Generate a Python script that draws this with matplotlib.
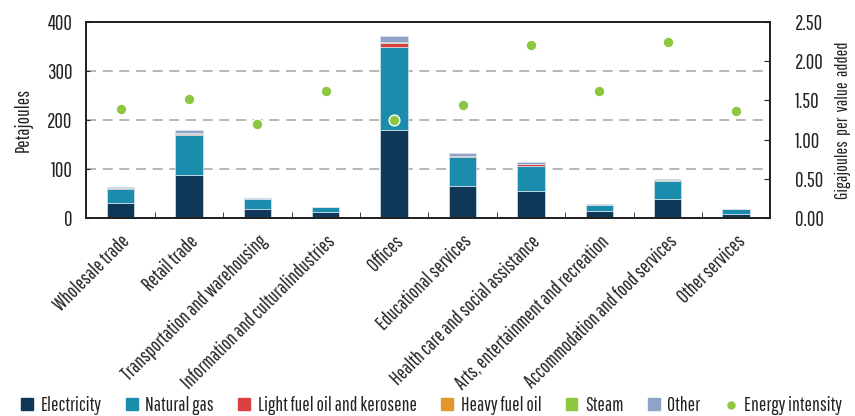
import numpy as np
import matplotlib.pyplot as plt
from matplotlib.lines import Line2D
from matplotlib.patches import Patch

plt.rcParams['font.family'] = ['Pathway Gothic One', 'DejaVu Sans']
plt.rcParams['text.color'] = '#222222'
plt.rcParams['axes.labelcolor'] = '#222222'
plt.rcParams['xtick.color'] = '#222222'
plt.rcParams['ytick.color'] = '#222222'

# Data
categories = ["Wholesale trade", "Retail trade", "Transportation and warehousing",
              "Information and culturalindustries", "Offices", "Educational services",
              "Health care and social assistance", "Arts, entertainment and recreation",
              "Accommodation and food services", "Other services"]
electricity = [31, 87, 18, 12, 179, 65, 56, 14, 38, 9]
natural_gas = [29, 82, 21, 10, 171, 59, 51, 12, 37, 9]
light_fuel = [2, 3, 0.5, 0.3, 7, 2.5, 3, 0.5, 1.5, 0.3]
heavy_fuel = [0, 1, 0, 0, 1.5, 0.5, 0.5, 0, 0.5, 0]
steam = [0, 0, 0, 0, 0.5, 0, 0, 0, 0, 0]
other = [1, 6, 1.5, 0.7, 12, 5, 3.5, 1.5, 3, 0.7]
intensity = [1.39, 1.52, 1.20, 1.62, 1.25, 1.44, 2.21, 1.62, 2.24, 1.37]

series = [("Electricity", electricity, "#0e3758"),
          ("Natural gas", natural_gas, "#1b8cab"),
          ("Light fuel oil and kerosene", light_fuel, "#d94141"),
          ("Heavy fuel oil", heavy_fuel, "#e0982a"),
          ("Steam", steam, "#8dc63f"),
          ("Other", other, "#8fa2c7")]

fig, ax = plt.subplots(figsize=(8.55, 4.16), dpi=100)
fig.subplots_adjust(left=0.101, right=0.901, top=0.947, bottom=0.476)

x = np.arange(len(categories))
bottom = np.zeros(len(categories))
for name, vals, col in series:
    ax.bar(x, vals, 0.4, bottom=bottom, color=col, edgecolor="#d8e4ec", linewidth=0.5, zorder=2)
    bottom += np.array(vals)

ax.set_xlim(-0.5, 9.5)
ax.set_ylim(0, 400)
ax.set_yticks([0, 100, 200, 300, 400])
for yv in [100, 200, 300]:
    ax.axhline(yv, color="#aaaaaa", linestyle=(0, (6, 4)), linewidth=1.2, zorder=1)
ax.set_ylabel("Petajoules", fontsize=14, labelpad=10)
ax.set_xticks(x)
ax.set_xticklabels(categories, rotation=45, ha="right", rotation_mode="anchor", fontsize=14)
ax.tick_params(axis="x", length=0, pad=10)
ax.set_xticks(np.arange(0.5, 9.5, 1), minor=True)
ax.tick_params(axis="x", which="minor", direction="in", length=4)
ax.tick_params(axis="y", direction="in", length=3, labelsize=15, pad=10)
for s in ax.spines.values():
    s.set_color("#222222")
    s.set_linewidth(1.3)

ax2 = ax.twinx()
ax2.set_ylim(0, 2.5)
ax2.set_yticks([0, 0.5, 1.0, 1.5, 2.0, 2.5])
ax2.set_yticklabels(["%.2f" % v for v in [0, 0.5, 1.0, 1.5, 2.0, 2.5]])
ax2.tick_params(axis="y", direction="in", length=4, labelsize=15, pad=18)
ax2.scatter(x, intensity, s=60, color="#8dc63f", edgecolor="white", linewidth=1, zorder=3)
ax2.set_ylabel("Gigajoules  per  value  added", fontsize=13, labelpad=8)
for s in ax2.spines.values():
    s.set_color("#222222")
    s.set_linewidth(1.3)

handles = [Patch(color=c, label=n) for n, v, c in series]
handles.append(Line2D([], [], marker="o", linestyle="", color="#8dc63f", markersize=5, label="Energy intensity"))
fig.legend(handles=handles, loc="lower center", ncol=7, frameon=False, fontsize=14,
           bbox_to_anchor=(0.505, -0.04), handlelength=0.6, handleheight=0.6,
           handletextpad=0.4, columnspacing=1.25)

fig.savefig("out.png", dpi=100)
